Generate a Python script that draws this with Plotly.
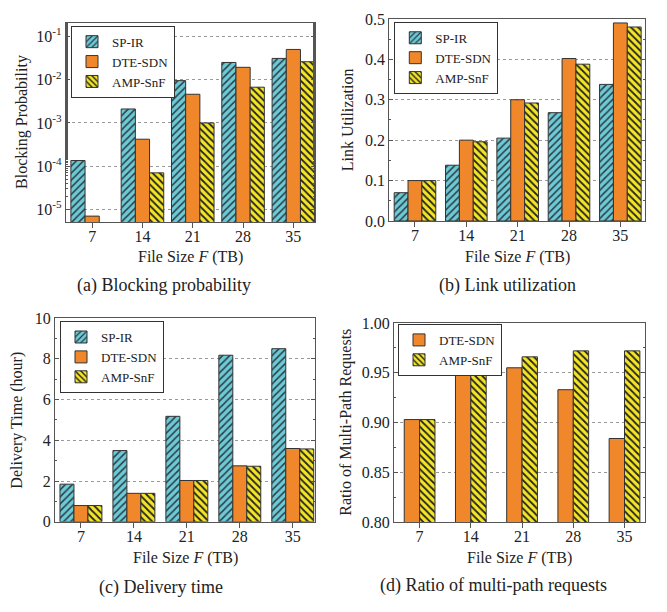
import plotly.graph_objects as go

# ---------------- data ----------------
file_sizes = ["7", "14", "21", "28", "35"]
series_names = ["SP-IR", "DTE-SDN", "AMP-SnF"]

blocking_sp_ir = [1.35e-4, 2.1e-3, 9.5e-3, 2.5e-2, 3.1e-2]
blocking_dte_sdn = [7.0e-6, 4.2e-4, 4.6e-3, 1.93e-2, 5.0e-2]
blocking_amp_snf = [None, 7.0e-5, 1.0e-3, 6.7e-3, 2.6e-2]

util_sp_ir = [0.070, 0.138, 0.205, 0.268, 0.338]
util_dte_sdn = [0.100, 0.200, 0.300, 0.402, 0.490]
util_amp_snf = [0.100, 0.196, 0.292, 0.388, 0.480]

delay_sp_ir = [1.85, 3.50, 5.18, 8.18, 8.50]
delay_dte_sdn = [0.80, 1.40, 2.03, 2.75, 3.60]
delay_amp_snf = [0.80, 1.40, 2.03, 2.73, 3.58]

multipath_dte_sdn = [0.903, 0.949, 0.955, 0.933, 0.884]
multipath_amp_snf = [0.903, 0.951, 0.966, 0.972, 0.972]

log_tickvals = [1e-5, 1e-4, 1e-3, 1e-2, 1e-1]
log_ticktext = ["10<sup>-5</sup>", "10<sup>-4</sup>", "10<sup>-3</sup>",
                "10<sup>-2</sup>", "10<sup>-1</sup>"]

# ---------------- style ----------------
FONT = "Liberation Serif, Times New Roman, serif"
CYAN = "#6cc9d5"
ORANGE = "#f0872b"
YELLOW = "#f4e526"
EDGE = "#333333"
AXC = "#555555"

styles = {
    "SP-IR": dict(color=CYAN, pattern=dict(shape="/", fgcolor="#2b3d44", bgcolor=CYAN,
                                            size=5, solidity=0.3, fillmode="replace")),
    "DTE-SDN": dict(color=ORANGE),
    "AMP-SnF": dict(color=YELLOW, pattern=dict(shape="\\", fgcolor="#222222", bgcolor=YELLOW,
                                                size=5, solidity=0.35, fillmode="replace")),
}

fig = go.Figure()


def add_group(names, values, xa, ya, legend, width):
    n = len(names)
    for i, (nm, vals) in enumerate(zip(names, values)):
        mk = dict(styles[nm])
        mk["line"] = dict(color=EDGE, width=1)
        fig.add_trace(go.Bar(
            x=file_sizes, y=vals, name=nm, marker=mk,
            xaxis=xa, yaxis=ya, legend=legend,
            width=width, offset=(i - n / 2) * width,
            showlegend=True,
        ))


add_group(series_names, [blocking_sp_ir, blocking_dte_sdn, blocking_amp_snf], "x", "y", "legend", 0.282)
add_group(series_names, [util_sp_ir, util_dte_sdn, util_amp_snf], "x2", "y2", "legend2", 0.270)
add_group(series_names, [delay_sp_ir, delay_dte_sdn, delay_amp_snf], "x3", "y3", "legend3", 0.264)
add_group(series_names[1:], [multipath_dte_sdn, multipath_amp_snf], "x4", "y4", "legend4", 0.300)

# page body has an 8px margin on every side: keep the figure inside the window
OFF = 8
W, H = 667 - 2 * OFF, 612 - 2 * OFF


def px_x(a, b):
    return [(a - OFF) / W, (b - OFF) / W]


def px_y(top, bottom):
    return [1 - (bottom - OFF) / H, 1 - (top - OFF) / H]


def fx(x):
    return (x - OFF) / W


def fy(y):
    return 1 - (y - OFF) / H


xcommon = dict(type="category", showline=True, linecolor=AXC, linewidth=1.3, mirror=True,
               ticks="outside", ticklen=5, tickcolor=AXC, tickwidth=1,
               ticklabelstandoff=-5,
               showgrid=False, zeroline=False,
               tickfont=dict(family=FONT, size=16, color="#222"))
ycommon = dict(showline=True, linecolor=AXC, linewidth=1.3, mirror="ticks",
               ticks="inside", ticklen=4, tickcolor=AXC, tickwidth=1,
               showgrid=True, gridcolor="#9a9a9a", griddash="dot", gridwidth=1,
               zeroline=False,
               tickfont=dict(family=FONT, size=16, color="#222"))

fig.update_layout(
    width=W, height=H,
    margin=dict(l=0, r=0, t=0, b=0),
    paper_bgcolor="white", plot_bgcolor="white",
    font=dict(family=FONT, color="#222"),
    barmode="group",
    xaxis=dict(xcommon, domain=px_x(66, 315), range=[-0.52, 4.43], anchor="y"),
    yaxis=dict(ycommon, domain=px_y(15, 220), type="log", range=[-5.29, -0.685],
               tickmode="array", tickvals=log_tickvals, ticktext=log_ticktext,
               minor=dict(ticks="inside", ticklen=2, tickcolor=AXC, showgrid=False),
               anchor="x"),
    xaxis2=dict(xcommon, domain=px_x(389.3, 645), range=[-0.5, 4.48], anchor="y2"),
    yaxis2=dict(ycommon, domain=px_y(11, 219), range=[0, 0.5], dtick=0.1, tickformat=".1f",
                minor=dict(ticks="inside", ticklen=2, tickcolor=AXC, dtick=0.05, showgrid=False),
                anchor="x2"),
    xaxis3=dict(xcommon, domain=px_x(55, 315), range=[-0.49, 4.42], anchor="y3"),
    yaxis3=dict(ycommon, domain=px_y(319, 528.7), range=[0, 10], dtick=2,
                minor=dict(ticks="inside", ticklen=2, tickcolor=AXC, dtick=1, showgrid=False),
                anchor="x3"),
    xaxis4=dict(xcommon, domain=px_x(394, 645), range=[-0.5, 4.4], anchor="y4"),
    yaxis4=dict(ycommon, domain=px_y(324, 529), range=[0.8, 1.0], dtick=0.05, tickformat=".2f",
                minor=dict(ticks="inside", ticklen=2, tickcolor=AXC, dtick=0.025, showgrid=False),
                anchor="x4"),
)

leg_common = dict(bgcolor="white", bordercolor="#333", borderwidth=1,
                  font=dict(family=FONT, size=13, color="#222"),
                  xanchor="left", yanchor="top", itemwidth=30,
                  tracegroupgap=0, traceorder="normal")
fig.update_layout(
    legend=dict(leg_common, x=fx(71), y=fy(18)),
    legend2=dict(leg_common, x=fx(394.3), y=fy(14)),
    legend3=dict(leg_common, x=fx(60), y=fy(322)),
    legend4=dict(leg_common, x=fx(398), y=fy(325)),
)

annotations = []
xtitle = "File Size <i>F</i> (TB)"
for cx, cy in [(190.5, 256), (517, 256), (185, 566), (519.5, 566)]:
    annotations.append(dict(text=xtitle, x=fx(cx), y=fy(cy), xref="paper", yref="paper",
                            xanchor="center", yanchor="middle", showarrow=False,
                            font=dict(family=FONT, size=16, color="#222")))
for txt, cx, cy in [("Blocking Probability", 22, 117), ("Link Utilization", 348.3, 115),
                    ("Delivery Time (hour)", 17.5, 424), ("Ratio of Multi-Path Requests", 346, 426.7)]:
    annotations.append(dict(text=txt, x=fx(cx), y=fy(cy), xref="paper", yref="paper",
                            xanchor="center", yanchor="middle", showarrow=False, textangle=-90,
                            font=dict(family=FONT, size=16, color="#222")))
for txt, cx, cy in [("(a) Blocking probability", 164, 285), ("(b) Link utilization", 507, 285),
                    ("(c) Delivery time", 160.7, 596), ("(d) Ratio of multi-path requests", 493, 594)]:
    annotations.append(dict(text=txt, x=fx(cx), y=fy(cy), xref="paper", yref="paper",
                            xanchor="center", yanchor="middle", showarrow=False,
                            font=dict(family=FONT, size=18, color="#222")))
fig.update_layout(annotations=annotations)

fig.write_html("out.html")
